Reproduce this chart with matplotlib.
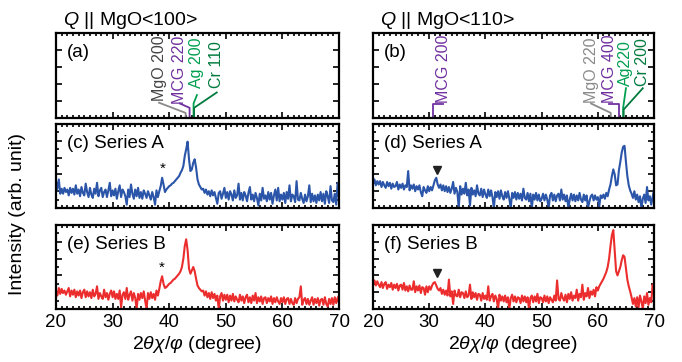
import numpy as np
import matplotlib.pyplot as plt
from matplotlib.ticker import MultipleLocator

plt.rcParams['font.family'] = ['Liberation Sans', 'DejaVu Sans']
plt.rcParams['mathtext.fontset'] = 'custom'
plt.rcParams['mathtext.rm'] = 'Liberation Sans'
plt.rcParams['mathtext.it'] = 'Liberation Sans:italic'

# 2theta grid, 20..70 deg, step 0.25
two_theta = np.arange(20.0, 70.001, 0.25)

# (c) Series A, Q || MgO<100>
series_a_100 = [
    .19, .24, .34, .17,  .23, .17, .24, .19,  .22, .15, .24, .18,  .23, .16, .27, .17,
    .22, .14, .25, .18,  .15, .29, .19, .13,  .24, .16, .12, .23,  .17, .30, .14, .21,
    .24, .13, .19, .22,  .13, .21, .30, .14,  .21, .15, .23, .11,  .20, .27, .13, .22,
    .19, .14, .04, .22,  .13, .28, .17, .11,  .22, .14, .24, .12,  .19, .11, .21, .17,
    .12, .20, .15, .10,  .19, .13, .04, .21,  .13, .20, .26, .36,  .28, .19, .22, .24,
    .26, .27, .29, .30,  .32, .34, .36, .38,  .42, .45, .50, .62,  .70, .79, .58, .44,
    .46, .54, .58, .48,  .34, .28, .25, .22,  .23, .18, .22, .16,  .20, .14, .21, .15,
    .19, .12, .05, .18,  .20, .11, .17, .24,  .12, .19, .10, .20,  .16, .09, .21, .12,
    .15, .29, .10, .18,  .09, .19, .15, .08,  .18, .25, .10, .16,  .08, .18, .12, .03,
    .17, .09, .24, .11,  .15, .08, .19, .10,  .18, .05, .15, .22,  .09, .24, .08, .16,
    .10, .18, .06, .19,  .11, .27, .08, .16,  .14, .07, .32, .10,  .09, .18, .11, .06,
    .16, .08, .14, .27,  .07, .17, .08, .15,  .06, .16, .09, .19,  .08, .17, .05, .20,
    .14, .06, .26, .09,  .07, .17, .04, .30,  .12]

# (e) Series B, Q || MgO<100>
series_b_100 = [
    .20, .16, .25, .18,  .24, .19, .22, .17,  .21, .25, .15, .22,  .17, .23, .14, .21,
    .16, .22, .13, .20,  .23, .14, .21, .15,  .20, .13, .23, .15,  .18, .27, .12, .19,
    .15, .12, .23, .14,  .19, .11, .18, .22,  .14, .21, .12, .18,  .12, .22, .02, .17,
    .20, .12, .25, .11,  .17, .21, .10, .19,  .13, .00, .18, .11,  .19, .13, .21, .10,
    .00, .19, .12, .20,  .13, .18, .11, .22,  .16, .24, .33, .39,  .30, .25, .26, .28,
    .30, .31, .33, .35,  .36, .38, .40, .42,  .45, .50, .60, .75,  .83, .70, .48, .42,
    .46, .50, .45, .36,  .28, .25, .23, .21,  .22, .16, .21, .14,  .19, .12, .20, .13,
    .18, .10, .16, .00,  .15, .19, .10, .17,  .11, .17, .08, .16,  .10, .18, .09, .15,
    .11, .08, .17, .10,  .15, .07, .14, .17,  .08, .14, .07, .16,  .10, .19, .07, .14,
    .09, .15, .06, .13,  .14, .07, .13, .09,  .15, .06, .13, .08,  .14, .09, .06, .13,
    .08, .14, .06, .12,  .13, .06, .12, .07,  .05, .13, .07, .12,  .14, .27, .05, .11,
    .13, .06, .12, .05,  .10, .14, .05, .12,  .07, .13, .04, .11,  .12, .05, .14, .06,
    .03, .12, .06, .13,  .05, .14, .07, .13,  .16]

# (d) Series A, Q || MgO<110>
series_a_110 = [
    .29, .34, .27, .32,  .28, .32, .25, .31,  .27, .24, .31, .26,  .30, .23, .29, .25,
    .26, .31, .22, .28,  .24, .29, .22, .27,  .25, .44, .21, .27,  .23, .28, .20, .26,
    .22, .27, .19, .14,  .25, .21, .18, .26,  .20, .25, .21, .27,  .33, .36, .28, .24,
    .28, .21, .27, .20,  .26, .19, .25, .18,  .23, .31, .17, .24,  .19, .00, .26, .16,
    .23, .17, .30, .15,  .22, .03, .24, .16,  .21, .14, .27, .17,  .15, .23, .13, .22,
    .16, .12, .22, .14,  .21, .13, .00, .19,  .13, .20, .11, .21,  .14, .10, .19, .12,
    .20, .11, .00, .18,  .12, .19, .10, .18,  .11, .17, .09, .23,  .12, .10, .18, .08,
    .17, .00, .16, .10,  .18, .09, .16, .08,  .11, .17, .09, .16,  .10, .00, .15, .18,
    .09, .16, .08, .15,  .17, .09, .22, .10,  .16, .08, .15, .00,  .10, .17, .09, .16,
    .08, .15, .09, .18,  .10, .07, .16, .09,  .15, .00, .08, .14,  .16, .09, .15, .10,
    .13, .02, .15, .12,  .16, .11, .18, .14,  .22, .28, .38, .46,  .40, .27, .28, .45,
    .55, .66, .73, .74,  .55, .38, .27, .21,  .17, .12, .20, .10,  .16, .07, .14, .00,
    .11, .16, .06, .25,  .09, .14, .04, .13,  .22]

# (f) Series B, Q || MgO<110>
series_b_110 = [
    .30, .34, .28, .33,  .29, .26, .32, .25,  .30, .32, .24, .29,  .26, .31, .23, .29,
    .25, .30, .22, .28,  .29, .23, .31, .22,  .27, .21, .28, .23,  .23, .33, .20, .27,
    .22, .28, .19, .26,  .25, .17, .27, .20,  .27, .23, .28, .31,  .32, .28, .24, .22,
    .25, .18, .23, .17,  .22, .16, .35, .15,  .21, .06, .22, .16,  .15, .23, .14, .20,
    .19, .13, .21, .14,  .16, .29, .12, .20,  .14, .19, .11, .18,  .17, .10, .19, .12,
    .16, .11, .27, .10,  .15, .18, .09, .16,  .12, .00, .17, .10,  .15, .09, .16, .08,
    .14, .00, .13, .17,  .09, .15, .08, .14,  .13, .07, .16, .09,  .15, .08, .14, .00,
    .13, .16, .08, .15,  .09, .18, .07, .14,  .13, .08, .16, .09,  .15, .07, .14, .11,
    .08, .16, .10, .34,  .12, .10, .19, .13,  .10, .17, .08, .18,  .12, .20, .10, .16,
    .13, .23, .10, .18,  .14, .29, .11, .19,  .15, .25, .13, .21,  .17, .23, .15, .26,
    .22, .27, .30, .33,  .36, .40, .44, .50,  .60, .75, .88, .94,  .70, .45, .40, .45,
    .50, .58, .64, .62,  .48, .35, .27, .21,  .14, .06, .13, .03,  .14, .02, .16, .09,
    .00, .15, .07, .19,  .05, .13, .08, .29,  .20]

# reference peak markers: (label, peak position, line colour, text colour, text x)
ref_100 = [('MgO 200', 42.9, '#8a8a8a', '#444444', 38.2),
           ('MCG 220', 43.6, '#7030a0', '#7030a0', 41.9),
           ('Ag 200', 44.3, '#00a050', '#00a050', 44.9),
           ('Cr 110', 44.4, '#007a3d', '#007a3d', 48.4)]
ref_110 = [('MCG 200', 30.7, '#7030a0', '#7030a0', 32.5),
           ('MgO 220', 62.3, '#8a8a8a', '#8a8a8a', 58.8),
           ('MCG 400', 63.8, '#7030a0', '#7030a0', 62.0),
           ('Ag220', 64.5, '#00a050', '#00a050', 65.0),
           ('Cr 200', 64.6, '#007a3d', '#007a3d', 68.0)]

blue = '#2a55a8'
red = '#ec2d2d'

fig = plt.figure(figsize=(6.82, 3.62), dpi=100)

cols = [0.0821, 0.547]
widths = [0.415, 0.412]
rows = [0.674, 0.4254, 0.1464]
heights = [0.235, 0.232, 0.232]

axs = []
for r in range(3):
    line = []
    for c in range(2):
        ax = fig.add_axes([cols[c], rows[r], widths[c], heights[r]])
        ax.set_xlim(20, 70)
        ax.set_ylim(0, 1)
        ax.xaxis.set_major_locator(MultipleLocator(10))
        ax.xaxis.set_minor_locator(MultipleLocator(1))
        ax.yaxis.set_major_locator(MultipleLocator(0.2))
        if r > 0:
            ax.yaxis.set_minor_locator(MultipleLocator(0.1))
        ax.tick_params(which='both', direction='in', top=True, right=True,
                       width=1.2, labelsize=13.5)
        ax.tick_params(which='major', length=4)
        ax.tick_params(which='minor', length=2)
        ax.set_yticklabels([])
        if r < 2:
            ax.set_xticklabels([])
        for s in ax.spines.values():
            s.set_linewidth(1.6)
        line.append(ax)
    axs.append(line)


def draw_refs(ax, refs, y_v, y_end, y_txt):
    for (lab, pos, lc, tc, tx), yv, ye, yt in zip(refs, y_v, y_end, y_txt):
        ax.plot([pos, pos, tx], [0, yv, ye], color=lc, lw=1.3)
        ax.text(tx, yt, lab, color=tc, rotation=90, ha='center', va='bottom',
                fontsize=11.5)


draw_refs(axs[0][0], ref_100, [0.06, 0.12, 0.17, 0.12], [0.18, 0.17, 0.27, 0.3],
          [0.2, 0.17, 0.35, 0.35])
draw_refs(axs[0][1], ref_110, [0.17, 0.06, 0.17, 0.12, 0.1],
          [0.17, 0.17, 0.17, 0.35, 0.35], [0.18, 0.18, 0.18, 0.38, 0.38])

axs[1][0].plot(two_theta, series_a_100, color=blue, lw=1.5)
axs[2][0].plot(two_theta, series_b_100, color=red, lw=1.5)
axs[1][1].plot(two_theta, series_a_110, color=blue, lw=1.5)
axs[2][1].plot(two_theta, series_b_110, color=red, lw=1.5)

axs[1][0].text(38.9, 0.38, '*', ha='center', va='bottom', fontsize=11)
axs[2][0].text(38.7, 0.41, '*', ha='center', va='bottom', fontsize=11)
axs[1][1].plot([31.3], [0.45], marker='v', color='#222222', ms=6)
axs[2][1].plot([31.3], [0.43], marker='v', color='#222222', ms=6)

labels = [['(a)', '(b)'], ['(c) Series A', '(d) Series A'], ['(e) Series B', '(f) Series B']]
for r in range(3):
    for c in range(2):
        axs[r][c].text(0.04, 0.77, labels[r][c], transform=axs[r][c].transAxes,
                       ha='left', va='center', fontsize=13.5)

fig.text(0.092, 0.942, r'$Q$ || MgO<100>', ha='left', va='center', fontsize=14)
fig.text(0.557, 0.942, r'$Q$ || MgO<110>', ha='left', va='center', fontsize=14)

xl = r'2$\theta\chi/\varphi$ (degree)'
axs[2][0].set_xlabel(xl, fontsize=14, labelpad=2)
axs[2][1].set_xlabel(xl, fontsize=14, labelpad=2)

fig.text(0.025, 0.41, 'Intensity (arb. unit)', rotation=90, ha='center', va='center',
         fontsize=14)

fig.savefig('out.png', dpi=100)
